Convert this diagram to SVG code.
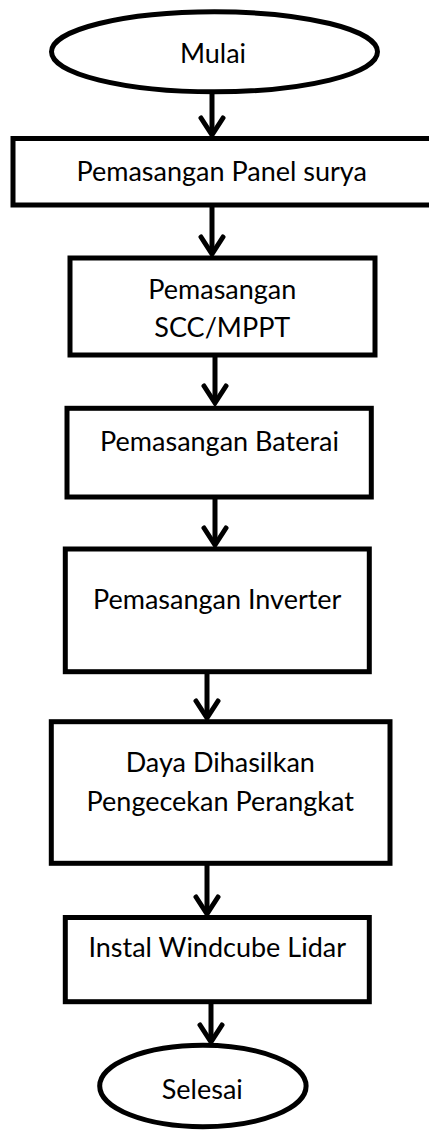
<svg xmlns="http://www.w3.org/2000/svg" width="429" height="1131" viewBox="0 0 429 1131">
<style>
.shape{fill:#fff;stroke:#000;stroke-width:5}
.t{font-family:Lato,"Open Sans",sans-serif;font-size:27px;fill:#000;text-anchor:middle}
.conn line{stroke:#000;stroke-width:5;marker-end:url(#arr)}
</style>
<defs>
<marker id="arr" markerUnits="userSpaceOnUse" orient="auto" refX="0" refY="0" markerWidth="40" markerHeight="40" viewBox="-20 -20 40 40" overflow="visible">
<path d="M-17,-11 L0,0 L-17,11" fill="none" stroke="#000" stroke-width="5" stroke-linecap="round" stroke-linejoin="miter"/>
</marker>
</defs>
<rect width="429" height="1131" fill="#fff"/>
<g class="conn" id="connectors">
<line x1="212" y1="92" x2="212" y2="135"/>
<line x1="212" y1="205" x2="212" y2="254"/>
<line x1="215" y1="355" x2="215" y2="403"/>
<line x1="215" y1="497" x2="215" y2="545"/>
<line x1="207" y1="672" x2="207" y2="718"/>
<line x1="207" y1="863" x2="207" y2="914"/>
<line x1="211" y1="1002" x2="211" y2="1042"/>
</g>
<g id="mulai"><ellipse class="shape" cx="214.5" cy="51.8" rx="163" ry="40"/><text class="t" x="213" y="62.5">Mulai</text></g>
<g id="panel"><rect class="shape" x="13" y="138.5" width="430" height="66.5"/><text class="t" x="221.7" y="181">Pemasangan Panel surya</text></g>
<g id="scc"><rect class="shape" x="70" y="258" width="305" height="97"/><text class="t" x="222.3" y="299.3">Pemasangan</text><text class="t" x="222.3" y="337.3">SCC/MPPT</text></g>
<g id="baterai"><rect class="shape" x="67" y="408.3" width="304.3" height="88.7"/><text class="t" x="219.5" y="451">Pemasangan Baterai</text></g>
<g id="inverter"><rect class="shape" x="65.3" y="549" width="304" height="122.7"/><text class="t" x="217.2" y="609.3">Pemasangan Inverter</text></g>
<g id="daya"><rect class="shape" x="51.3" y="721.7" width="338.7" height="141.6"/><text class="t" x="220.3" y="771.7">Daya Dihasilkan</text><text class="t" x="220.3" y="810.7">Pengecekan Perangkat</text></g>
<g id="lidar"><rect class="shape" x="65.3" y="917.5" width="304" height="84.2"/><text class="t" x="217.2" y="957.3">Instal Windcube Lidar</text></g>
<g id="selesai"><ellipse class="shape" cx="202.9" cy="1086" rx="103.2" ry="40.7"/><text class="t" x="202.3" y="1099">Selesai</text></g>
</svg>
